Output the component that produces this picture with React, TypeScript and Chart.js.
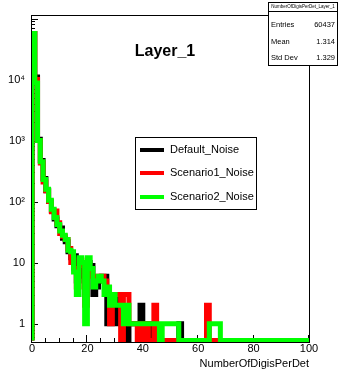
import React, { useEffect, useRef } from 'react';
import { Chart, registerables } from 'chart.js';

Chart.register(...registerables);

const W = 338;
const H = 373;
const X_MIN = 0;
const X_MAX = 100;
const Y_MIN = 0.5;
const Y_MAX = 1.1e5;
const EMPTY_LEVEL = 0.53;

const seriesNames = ['Default_Noise', 'Scenario1_Noise', 'Scenario2_Noise'];
const seriesColors = ['#000000', '#ff0000', '#00ff00'];

// counts per unit-width bin, starting at x = 0
const defaultNoise = [
  57000, 11000, 1050, 470, 240, 150, 100, 70, 52, 40,
  37, 25, 22, 15, 12, 13, 5, 6, 10, 3,
  10, 9, 3, 4, 5, 6, 6, 1, 1, 2,
  1, 3, 1, 1, 0, 1, 1, 1, 1, 2,
  1, 0, 1, 0, 0, 0, 0, 0, 0, 0,
  0, 0, 0, 1, 0, 0, 0, 0, 0, 0,
  0, 0, 0, 0, 0, 0, 0, 0, 0, 0,
  0, 0, 0, 0, 0, 0, 0, 0, 0, 0,
  0, 0, 0, 0, 0, 0, 0, 0, 0, 0,
  0, 0, 0, 0, 0, 0, 0, 0, 0, 0,
];
const scenario1Noise = [
  57000, 10000, 1000, 430, 210, 150, 100, 68, 70, 45,
  30, 27, 24, 17, 10, 8, 4, 11, 9, 2,
  8, 6, 6, 6, 6, 6, 5, 3, 1, 3,
  3, 3, 0, 3, 3, 1, 1, 1, 0, 1,
  0, 1, 0, 0, 2, 0, 0, 0, 0, 0,
  0, 0, 0, 0, 0, 0, 0, 0, 0, 0,
  0, 0, 0, 2, 0, 0, 0, 0, 0, 0,
  0, 0, 0, 0, 0, 0, 0, 0, 0, 0,
  0, 0, 0, 0, 0, 0, 0, 0, 0, 0,
  0, 0, 0, 0, 0, 0, 0, 0, 0, 0,
];
const scenario2Noise = [
  57000, 8800, 1000, 450, 230, 160, 105, 75, 55, 42,
  33, 28, 24, 16, 15, 7, 3, 12, 10, 1,
  12, 8, 4, 5, 6, 5, 3, 4, 2, 3,
  2, 2, 2, 1, 2, 1, 1, 1, 1, 1,
  1, 1, 1, 1, 1, 1, 0, 1, 1, 1,
  1, 1, 1, 0, 0, 0, 0, 0, 0, 0,
  0, 0, 0, 0, 1, 1, 1, 1, 0, 0,
  0, 0, 0, 0, 0, 0, 0, 0, 0, 0,
  0, 0, 0, 0, 0, 0, 0, 0, 0, 0,
  0, 0, 0, 0, 0, 0, 0, 0, 0, 0,
];

const xTickValues = [0, 20, 40, 60, 80, 100];
const yTickValues = [1, 10, 100, 1000, 10000];
const yTickLabels = ['1', '10', '10²', '10³', '10⁴'];

const chartTitle = 'Layer_1';
const xAxisTitle = 'NumberOfDigisPerDet';
const statTitle = 'NumberOfDigisPerDet_Layer_1';
const statLabels = ['Entries', 'Mean', 'Std Dev'];
const statValues = ['60437', '1.314', '1.329'];

const FONT = '"Liberation Sans", Arial, Helvetica, sans-serif';

function toSteps(counts: number[]) {
  const lvl = (c: number) => (c > 0 ? c : EMPTY_LEVEL);
  const pts: { x: number; y: number }[] = [{ x: X_MIN, y: EMPTY_LEVEL }];
  counts.forEach((c, i) => pts.push({ x: X_MIN + i, y: lvl(c) }));
  pts.push({ x: X_MIN + counts.length, y: lvl(counts[counts.length - 1]) });
  return pts;
}

const rootPlugin = {
  id: 'rootDecor',
  beforeDatasetsDraw(chart: any) {
    const { ctx, chartArea: a, scales } = chart;
    const xs = scales.x;
    const ys = scales.y;
    ctx.save();
    ctx.strokeStyle = '#000';
    ctx.lineWidth = 1;
    ctx.strokeRect(a.left - 0.5, a.top - 0.5, a.right - a.left + 1, a.bottom - a.top + 1);
    ctx.beginPath();
    for (let v = X_MIN; v <= X_MAX; v += 5) {
      const px = Math.round(xs.getPixelForValue(v)) - 0.5;
      const len = v % 20 === 0 ? 7 : 4;
      ctx.moveTo(px, a.bottom);
      ctx.lineTo(px, a.bottom - len);
    }
    for (let d = -1; d <= 5; d++) {
      for (let m = 1; m <= 9; m++) {
        const v = m * Math.pow(10, d);
        if (v < Y_MIN || v > Y_MAX) continue;
        const py = Math.round(ys.getPixelForValue(v)) + 0.5;
        const len = m === 1 ? 6 : 3;
        ctx.moveTo(a.left, py);
        ctx.lineTo(a.left + len, py);
      }
    }
    ctx.stroke();
    ctx.restore();
  },
  afterDraw(chart: any) {
    const { ctx, chartArea: a } = chart;
    ctx.save();
    // title
    ctx.fillStyle = '#000';
    ctx.font = `bold 16px ${FONT}`;
    ctx.textAlign = 'center';
    ctx.textBaseline = 'middle';
    ctx.fillText(chartTitle, 165, 52);

    // x axis title
    ctx.font = `11px ${FONT}`;
    ctx.textAlign = 'right';
    ctx.fillText(xAxisTitle, a.right, 364);

    // legend
    const lx = 135.5, ly = 137.5, lw = 121, lh = 72;
    ctx.fillStyle = '#fff';
    ctx.fillRect(lx, ly, lw, lh);
    ctx.strokeStyle = '#000';
    ctx.lineWidth = 1;
    ctx.strokeRect(lx, ly, lw, lh);
    const rows = [150, 173, 197];
    seriesNames.forEach((name, i) => {
      ctx.strokeStyle = seriesColors[i];
      ctx.lineWidth = 4;
      ctx.beginPath();
      ctx.moveTo(140, rows[i]);
      ctx.lineTo(164, rows[i]);
      ctx.stroke();
      ctx.fillStyle = '#000';
      ctx.font = `11px ${FONT}`;
      ctx.textAlign = 'left';
      ctx.textBaseline = 'middle';
      ctx.fillText(name, 170, rows[i]);
    });

    // stat box
    const sx = 268.5, sy = 2.5, sw = 69, sh = 63;
    ctx.fillStyle = '#fff';
    ctx.fillRect(sx, sy, sw, sh);
    ctx.strokeStyle = '#000';
    ctx.lineWidth = 1;
    ctx.strokeRect(sx, sy, sw, sh);
    ctx.beginPath();
    ctx.moveTo(sx, 11.5);
    ctx.lineTo(sx + sw, 11.5);
    ctx.stroke();
    ctx.fillStyle = '#000';
    ctx.font = `4.5px ${FONT}`;
    ctx.textAlign = 'center';
    ctx.textBaseline = 'middle';
    ctx.fillText(statTitle, sx + sw / 2, 7);
    const srows = [25, 42, 58];
    ctx.font = `7.5px ${FONT}`;
    statLabels.forEach((lab, i) => {
      ctx.textAlign = 'left';
      ctx.fillText(lab, 271, srows[i]);
      ctx.textAlign = 'right';
      ctx.fillText(statValues[i], 335, srows[i]);
    });
    ctx.restore();
  },
};

export default function App() {
  const ref = useRef<HTMLCanvasElement | null>(null);
  useEffect(() => {
    document.body.style.margin = '0';
    const canvas = ref.current;
    if (!canvas) return;
    const seriesData = [defaultNoise, scenario1Noise, scenario2Noise];
    const chart = new Chart(canvas, {
      type: 'line',
      data: {
        datasets: seriesData.map((arr, i) => ({
          label: seriesNames[i],
          data: toSteps(arr),
          borderColor: seriesColors[i],
          backgroundColor: seriesColors[i],
          borderWidth: 5,
          stepped: 'before' as const,
          pointRadius: 0,
          fill: false,
          order: 3 - i,
          borderJoinStyle: 'miter' as const,
          borderCapStyle: 'butt' as const,
        })),
      },
      options: {
        responsive: false,
        animation: false,
        devicePixelRatio: 1,
        parsing: false,
        normalized: true,
        layout: { padding: { top: 16, right: 29, left: 0, bottom: 0 } },
        plugins: {
          legend: { display: false },
          tooltip: { enabled: false },
          title: { display: false },
        },
        events: [],
        scales: {
          x: {
            type: 'linear',
            min: X_MIN,
            max: X_MAX,
            grid: { display: false, drawTicks: false },
            border: { display: false },
            afterBuildTicks: (s: any) => {
              s.ticks = xTickValues.map((v) => ({ value: v }));
            },
            afterFit: (s: any) => {
              s.height = H - 342;
            },
            ticks: {
              padding: 0,
              color: '#000',
              autoSkip: false,
              maxRotation: 0,
              font: { family: FONT, size: 11 },
              callback: (v: any) => String(v),
            },
          },
          y: {
            type: 'logarithmic',
            min: Y_MIN,
            max: Y_MAX,
            grid: { display: false, drawTicks: false },
            border: { display: false },
            afterBuildTicks: (s: any) => {
              s.ticks = yTickValues.map((v) => ({ value: v }));
            },
            afterFit: (s: any) => {
              s.width = 32;
            },
            ticks: {
              padding: 7,
              color: '#000',
              autoSkip: false,
              font: { family: FONT, size: 11 },
              callback: (v: any) => {
                const i = yTickValues.indexOf(Number(v));
                return i >= 0 ? yTickLabels[i] : '';
              },
            },
          },
        },
      },
      plugins: [rootPlugin],
    } as any);
    return () => chart.destroy();
  }, []);
  return (
    <div style={{ position: 'absolute', left: 0, top: 0, width: W, height: H, background: '#fff' }}>
      <canvas ref={ref} width={W} height={H} style={{ width: W, height: H, display: 'block' }} />
    </div>
  );
}
